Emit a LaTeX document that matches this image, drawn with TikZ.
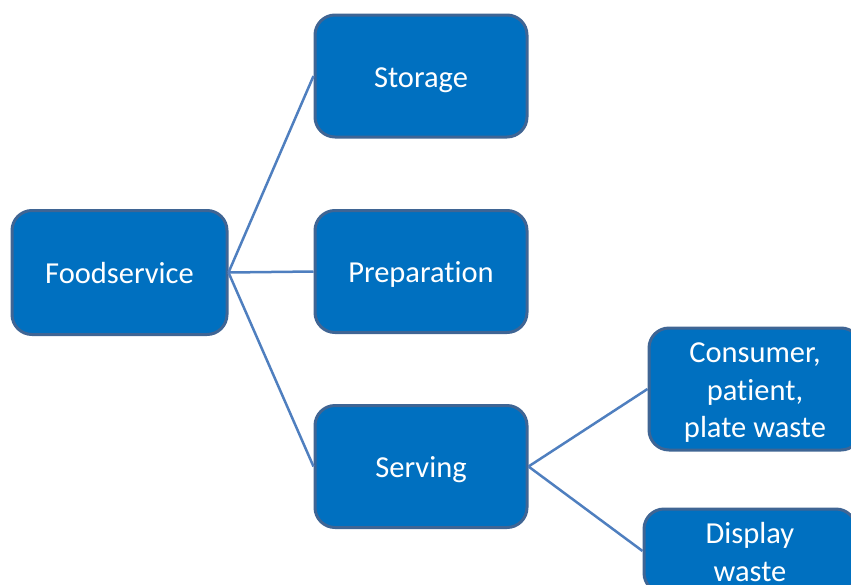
\documentclass[tikz,border=0pt]{standalone}
\usepackage{fontspec}
\setmainfont{Carlito}[Ligatures=NoCommon]
\definecolor{boxfill}{HTML}{0070C0}
\definecolor{boxline}{HTML}{3F6594}
\definecolor{conn}{HTML}{4F7FBF}
\newcommand\boxtext[1]{\raisebox{-10pt}[0pt][0pt]{\begin{tabular}{@{}c@{}}#1\end{tabular}}}
\begin{document}
\begin{tikzpicture}[x=1pt,y=-1pt,
  box/.style={draw=boxline, line width=3pt, fill=boxfill, rounded corners=20pt,
    minimum width=212pt, minimum height=122pt, text=white, align=center,
    font=\fontsize{30.5}{37.5}\selectfont, inner sep=0pt},
  link/.style={draw=conn, line width=2.5pt}]
\useasboundingbox (0,0) rectangle (851,584);
\begin{scope}
\clip (0,0) rectangle (851,584);
\node[box, minimum width=215pt, minimum height=124pt] (food) at (119.5,272.5) {\boxtext{Foodservice}};
\node[box] (stor) at (421,76) {\boxtext{Storage}};
\node[box] (prep) at (421,271.5) {\boxtext{Preparation}};
\node[box] (serv) at (421,466.5) {\boxtext{Serving}};
\node[box] (cons) at (755,389) {\boxtext{Consumer,\\patient,\\plate waste}};
\node[box, minimum height=84pt] (disp) at (750,551) {\boxtext{Display\\waste}};
\draw[link] (food.east) -- (stor.west);
\draw[link] (food.east) -- (prep.west);
\draw[link] (food.east) -- (serv.west);
\draw[link] (serv.east) -- (cons.west);
\draw[link] (serv.east) -- (disp.west);
\end{scope}
\end{tikzpicture}
\end{document}
